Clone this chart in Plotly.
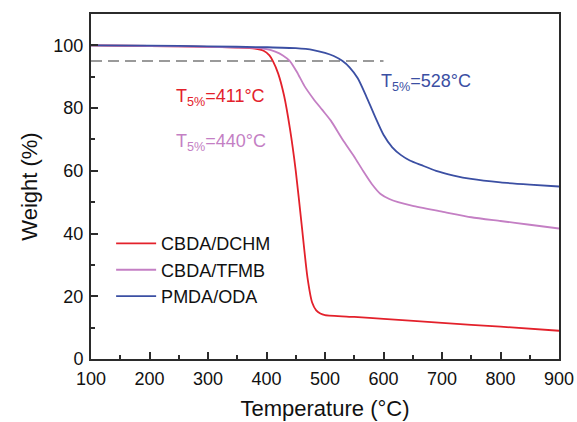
import plotly.graph_objects as go

# ---- data ----
temp_dchm = [100, 200, 300, 350, 380, 395, 405, 411, 420, 430, 440, 450, 460, 470, 478, 485, 492, 500, 550, 600, 700, 800, 900]
w_dchm    = [100, 99.8, 99.5, 99.3, 99.0, 98.3, 96.8, 95.0, 91.0, 84.0, 73.5, 60.0, 43.0, 26.0, 18.0, 15.5, 14.5, 14.0, 13.4, 12.8, 11.5, 10.3, 9.0]

temp_tfmb = [100, 200, 300, 380, 400, 415, 428, 440, 452, 465, 480, 495, 510, 530, 550, 565, 580, 595, 610, 625, 650, 700, 750, 800, 850, 900]
w_tfmb    = [100, 99.8, 99.5, 99.2, 98.8, 98.0, 96.8, 95.0, 91.5, 87.0, 83.0, 79.5, 76.0, 70.0, 64.5, 60.0, 55.8, 52.6, 51.0, 50.0, 48.8, 47.0, 45.2, 44.0, 42.8, 41.6]

temp_oda = [100, 200, 300, 400, 450, 480, 500, 515, 530, 542, 556, 570, 585, 600, 615, 630, 645, 665, 690, 720, 750, 800, 850, 900]
w_oda    = [100, 99.9, 99.7, 99.4, 99.1, 98.5, 97.6, 96.6, 95.0, 93.0, 89.5, 84.0, 77.5, 71.5, 67.5, 65.0, 63.3, 61.8, 60.0, 58.5, 57.4, 56.3, 55.6, 55.0]

series_names = ["CBDA/DCHM", "CBDA/TFMB", "PMDA/ODA"]
series_colors = ["#e3212b", "#c47fc4", "#3b4fa3"]

dash_x = [100, 600]
dash_y = [95, 95]

labels = ["T<sub>5%</sub>=411°C", "T<sub>5%</sub>=440°C", "T<sub>5%</sub>=528°C"]
label_x = [322, 322, 673]
label_y = [83.4, 69.1, 88.2]

FONT = "Liberation Sans, Arial, sans-serif"

fig = go.Figure()
fig.add_trace(go.Scatter(x=dash_x, y=dash_y, mode="lines", showlegend=False,
                         line=dict(color="#7a7a7a", width=1.5, dash="11px,6px"),
                         hoverinfo="skip"))
for xs, ys, name, col in zip([temp_dchm, temp_tfmb, temp_oda], [w_dchm, w_tfmb, w_oda],
                             series_names, series_colors):
    fig.add_trace(go.Scatter(x=xs, y=ys, mode="lines", name=name,
                             line=dict(color=col, width=1.8, shape="spline", smoothing=0.6)))

for txt, lx, ly, col in zip(labels, label_x, label_y, series_colors):
    fig.add_annotation(x=lx, y=ly, text=txt, showarrow=False, xanchor="center", yanchor="middle",
                       font=dict(family=FONT, size=18, color=col))

axis_common = dict(showline=True, linecolor="#2b2b2b", linewidth=2, mirror=True,
                   ticks="inside", ticklen=7, tickwidth=1.5, tickcolor="#2b2b2b",
                   showgrid=False, zeroline=False, automargin=False,
                   tickfont=dict(family=FONT, size=18, color="#111"))

fig.update_xaxes(range=[100, 900], dtick=100, tick0=100, ticklabelstandoff=2,
                 minor=dict(ticks="inside", ticklen=4, tickwidth=1.5, tickcolor="#2b2b2b", dtick=50, showgrid=False),
                 title=dict(text="Temperature (°C)", font=dict(family=FONT, size=22, color="#111"), standoff=13),
                 **axis_common)
fig.update_yaxes(range=[0, 110], dtick=20, tick0=0, ticklabelstandoff=2,
                 minor=dict(ticks="inside", ticklen=4, tickwidth=1.5, tickcolor="#2b2b2b", dtick=10, showgrid=False),
                 title=dict(text="Weight (%)", font=dict(family=FONT, size=22, color="#111"), standoff=10),
                 **axis_common)

fig.update_layout(
    width=577, height=422,
    margin=dict(l=91, r=18, t=14, b=63),
    plot_bgcolor="white", paper_bgcolor="white",
    legend=dict(x=0.043, y=0.388, xanchor="left", yanchor="top", itemwidth=40,
                bgcolor="rgba(0,0,0,0)", font=dict(family=FONT, size=18, color="#111"),
                tracegroupgap=0),
)

fig.write_html("out.html",
               config={"displayModeBar": False},
               post_script="document.body.style.margin='0';document.body.style.overflow='hidden';")
